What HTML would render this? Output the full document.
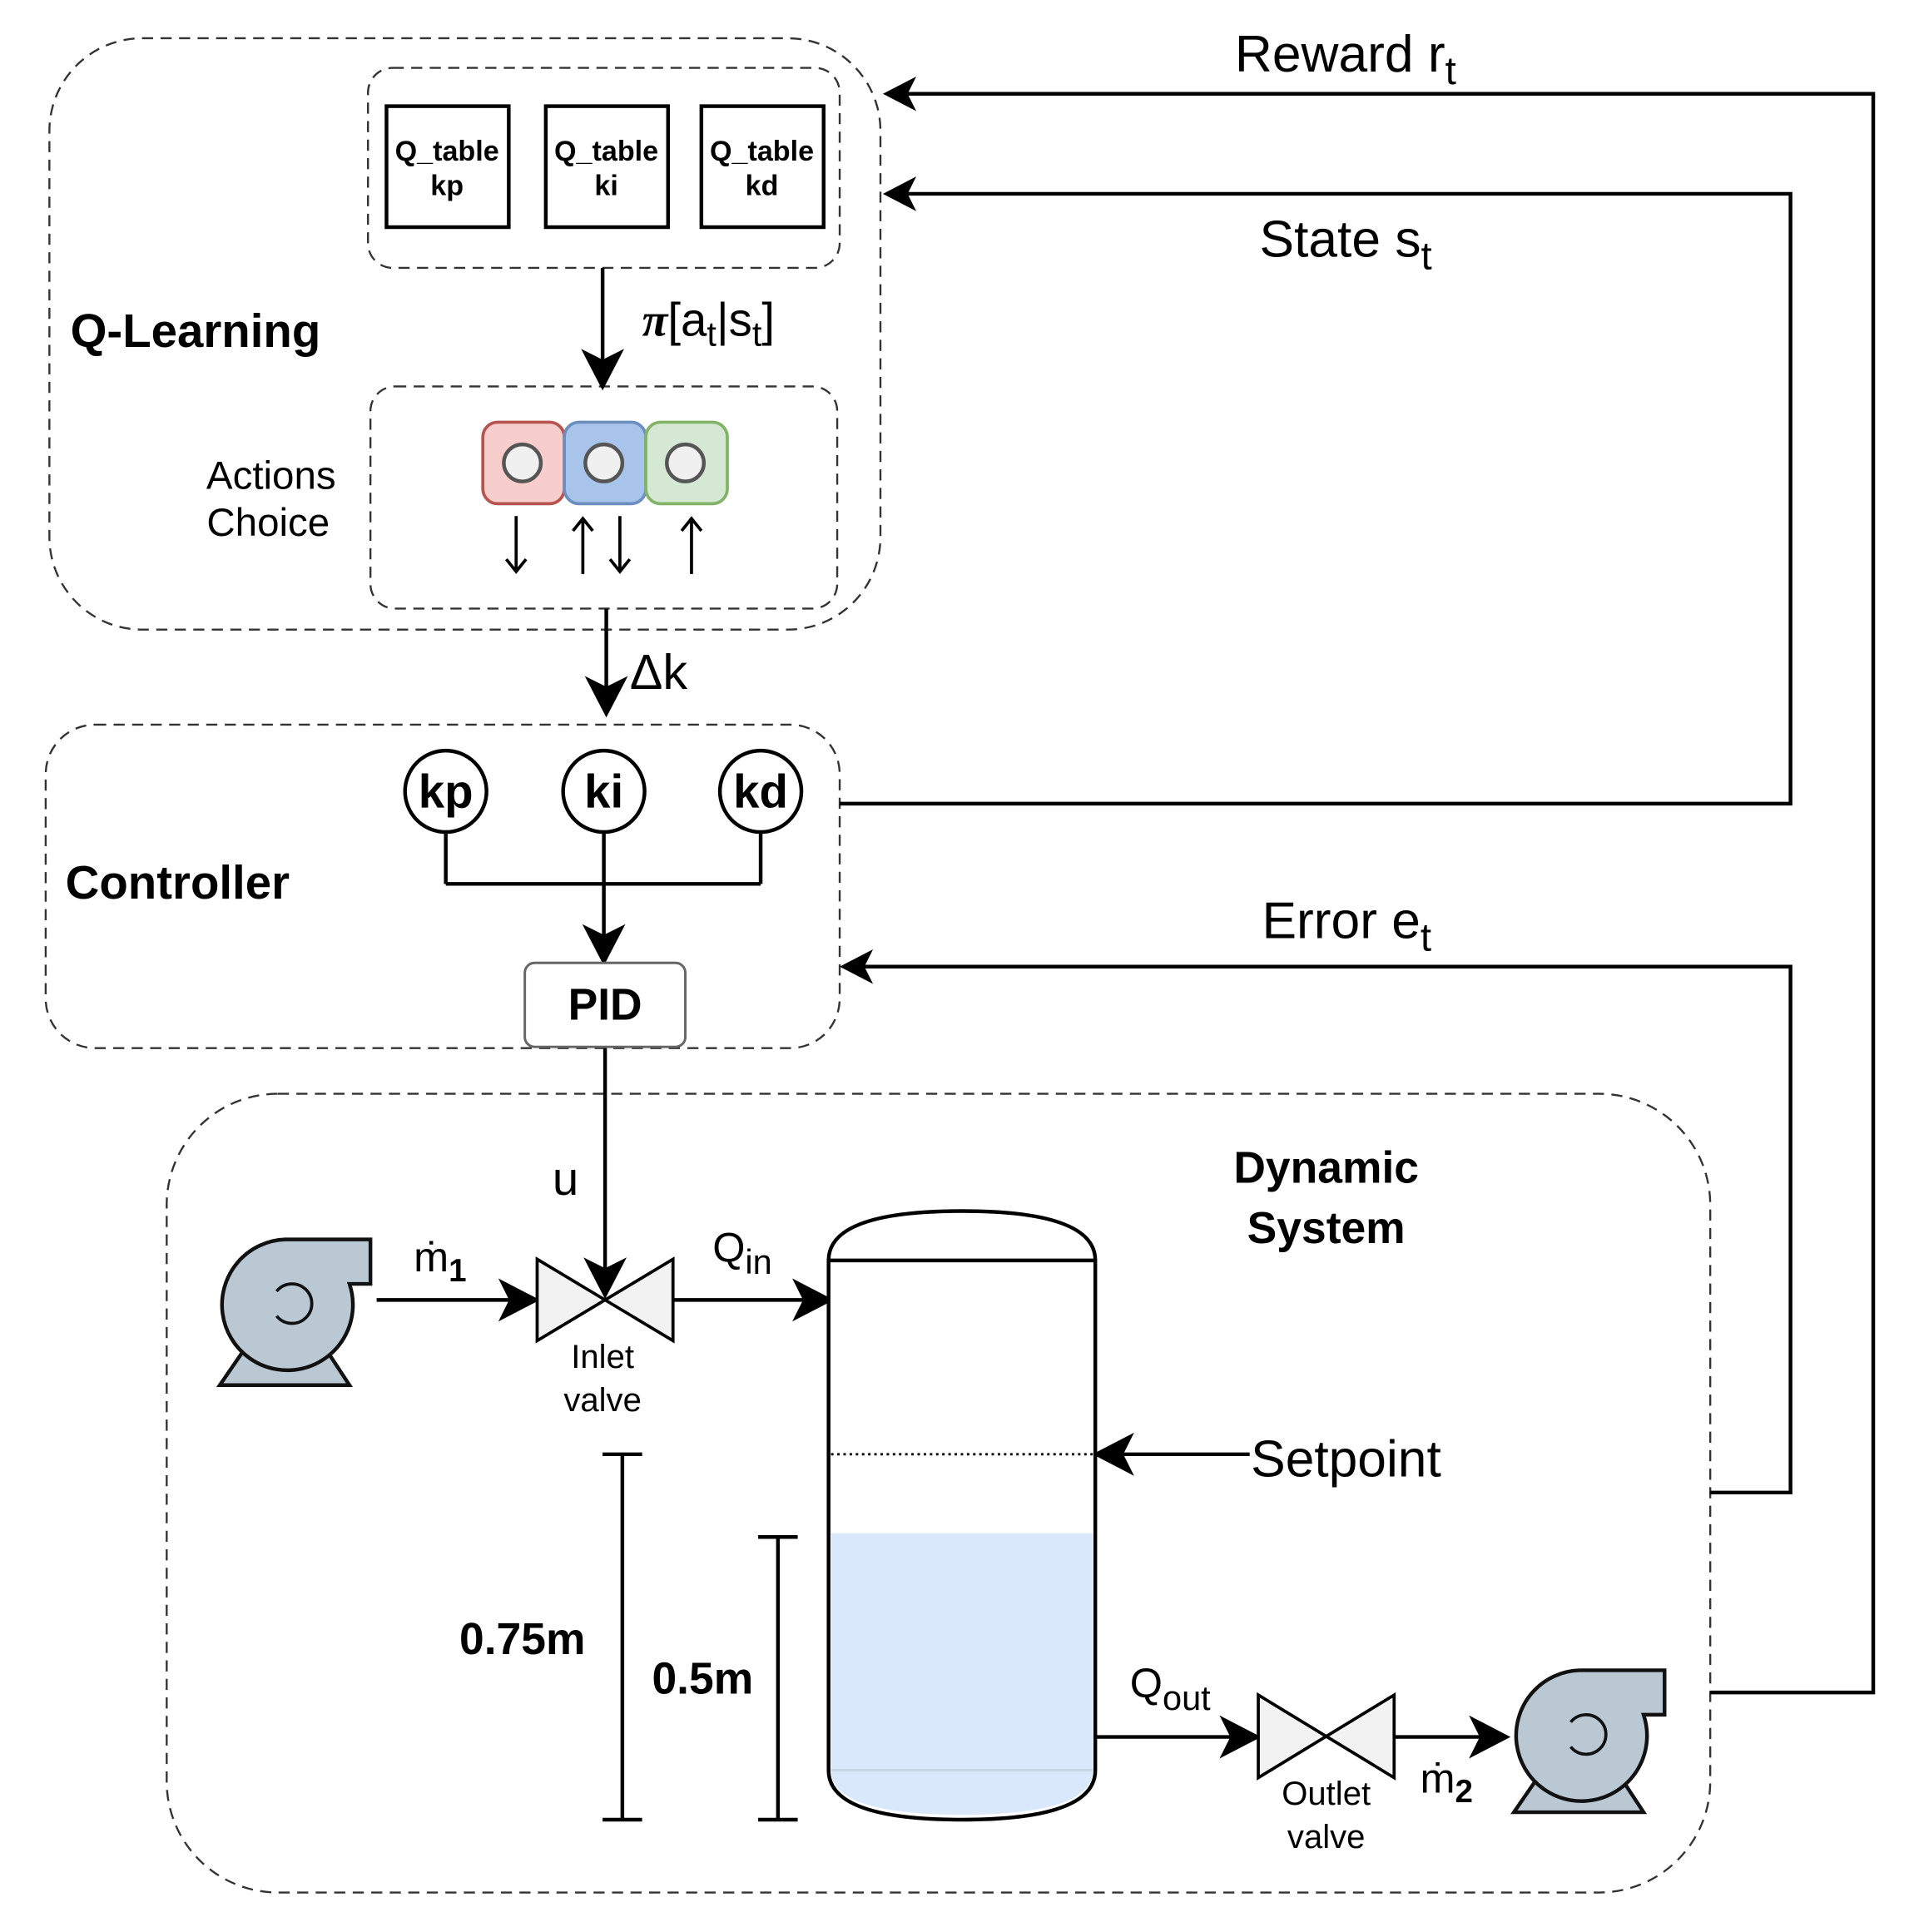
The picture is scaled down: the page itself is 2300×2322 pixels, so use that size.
<!DOCTYPE html>
<html><head><meta charset="utf-8"><style>
html,body{margin:0;padding:0;background:#fff;}
svg{display:block;}
text{font-family:"Liberation Sans",Arial,sans-serif;fill:#000;}
</style></head><body>
<svg width="2300" height="2322" viewBox="0 0 1550 1565" preserveAspectRatio="none" xmlns="http://www.w3.org/2000/svg">
<g fill="none" stroke="#333" stroke-width="1.6" stroke-dasharray="9,6">
<rect x="40" y="31" width="673" height="479" rx="75"/>
<rect x="298" y="55" width="382" height="162" rx="20"/>
<rect x="300" y="313" width="378" height="180" rx="20"/>
<rect x="37" y="587" width="643" height="262" rx="40"/>
<rect x="135" y="886" width="1250" height="647" rx="90"/>
</g>
<g fill="#fff" stroke="#000" stroke-width="3">
<rect x="313" y="86" width="99" height="98"/>
<rect x="442" y="86" width="99" height="98"/>
<rect x="568" y="86" width="99" height="98"/>
</g>
<g font-size="23" text-anchor="middle" font-weight="bold">
<text x="362" y="130">Q_table</text><text x="362" y="158">kp</text>
<text x="491" y="130">Q_table</text><text x="491" y="158">ki</text>
<text x="617" y="130">Q_table</text><text x="617" y="158">kd</text>
</g>
<text x="57" y="281" font-size="38" font-weight="bold">Q-Learning</text>
<text x="272" y="396" font-size="32" text-anchor="end" font-family="DejaVu Sans">Actions</text>
<text x="267" y="434" font-size="32" text-anchor="end" font-family="DejaVu Sans">Choice</text>
<g stroke="#000" stroke-width="3" fill="#000">
<line x1="488" y1="217" x2="488" y2="295"/><path d="M474,286 L488,313 L502,286 L488,293Z"/>
<line x1="491" y1="493" x2="491" y2="560"/><path d="M477,551 L491,578 L505,551 L491,558Z"/>
<line x1="361" y1="674" x2="361" y2="716"/><line x1="616" y1="674" x2="616" y2="716"/>
<line x1="361" y1="716" x2="616" y2="716"/>
<line x1="489" y1="674" x2="489" y2="762"/><path d="M475,752 L489,779 L503,752 L489,759Z"/>
<line x1="490" y1="849" x2="490" y2="1032"/><path d="M476,1022 L490,1049 L504,1022 L490,1029Z"/>
<line x1="305" y1="1053" x2="416" y2="1053"/><path d="M407,1039 L434,1053 L407,1067 L414,1053Z"/>
<line x1="545" y1="1053" x2="654" y2="1053"/><path d="M645,1039 L672,1053 L645,1067 L652,1053Z"/>
<line x1="887" y1="1407" x2="1000" y2="1407"/><path d="M991,1393 L1018,1407 L991,1421 L998,1407Z"/>
<line x1="1129" y1="1407" x2="1202" y2="1407"/><path d="M1193,1393 L1220,1407 L1193,1421 L1200,1407Z"/>
<line x1="1012" y1="1178" x2="906" y2="1178"/><path d="M915,1164 L888,1178 L915,1192 L908,1178Z"/>
</g>
<g stroke="#000" stroke-width="3" fill="none">
<polyline points="1385,1371 1517,1371 1517,76 735,76"/>
<polyline points="680,651 1450,651 1450,157 735,157"/>
<polyline points="1385,1209 1450,1209 1450,783 700,783"/>
</g>
<g fill="#000">
<path d="M742,62 L715,76 L742,90 L735,76Z"/>
<path d="M742,143 L715,157 L742,171 L735,157Z"/>
<path d="M707,769 L680,783 L707,797 L700,783Z"/>
</g>
<text x="520" y="272" font-size="38"><tspan font-family="Liberation Serif" font-style="italic" font-weight="bold">π</tspan>[a<tspan font-size="28" dy="8">t</tspan><tspan dy="-8">|s</tspan><tspan font-size="28" dy="8">t</tspan><tspan dy="-8">]</tspan></text>
<text x="510" y="558" font-size="40">Δk</text>
<text x="1000" y="58" font-size="42">Reward r<tspan font-size="32" dy="10">t</tspan></text>
<text x="1020" y="208" font-size="42">State s<tspan font-size="32" dy="10">t</tspan></text>
<text x="1022" y="760" font-size="42">Error e<tspan font-size="32" dy="10">t</tspan></text>
<rect x="391" y="342" width="66" height="66" rx="12" fill="#f8cecc" stroke="#b85450" stroke-width="2.5"/>
<rect x="457" y="342" width="66" height="66" rx="12" fill="#a9c4eb" stroke="#6c8ebf" stroke-width="2.5"/>
<rect x="523" y="342" width="66" height="66" rx="12" fill="#d5e8d4" stroke="#82b366" stroke-width="2.5"/>
<g fill="#f0f0f0" stroke="#555" stroke-width="3">
<circle cx="423" cy="375" r="15"/><circle cx="489" cy="375" r="15"/><circle cx="555" cy="375" r="15"/>
</g>
<g stroke="#000" stroke-width="2.5" fill="none">
<path d="M418,418 V463 M410,453 L418,463 L426,453"/>
<path d="M472,465 V420 M464,430 L472,420 L480,430"/>
<path d="M502,418 V463 M494,453 L502,463 L510,453"/>
<path d="M560,465 V420 M552,430 L560,420 L568,430"/>
</g>
<g fill="#fff" stroke="#000" stroke-width="3">
<circle cx="361" cy="641" r="33"/><circle cx="489" cy="641" r="33"/><circle cx="616" cy="641" r="33"/>
</g>
<g font-size="38" font-weight="bold" text-anchor="middle">
<text x="361" y="654">kp</text><text x="489" y="654">ki</text><text x="616" y="654">kd</text>
</g>
<text x="53" y="728" font-size="38" font-weight="bold">Controller</text>
<rect x="425" y="780" width="130" height="68" rx="8" fill="#fff" stroke="#666" stroke-width="2"/>
<text x="490" y="826" font-size="36" font-weight="bold" text-anchor="middle">PID</text>
<text x="458" y="968" font-size="38" text-anchor="middle">u</text>
<text x="1074" y="958" font-size="36" font-weight="bold" text-anchor="middle">Dynamic</text>
<text x="1074" y="1007" font-size="36" font-weight="bold" text-anchor="middle">System</text>
<!-- pumps -->
<g fill="#bac8d3" stroke="#111" stroke-width="3">
<path d="M200,1090 L178,1122 L283,1122 L262,1090 Z"/>
<path d="M283,1040 A53,53 0 1 1 231,1004 L300,1004 L300,1040 Z"/>
<path d="M1248,1436 L1226,1468 L1331,1468 L1310,1436 Z"/>
<path d="M1331,1389 A53,53 0 1 1 1279,1353 L1348,1353 L1348,1389 Z"/>
</g>
<g fill="none" stroke="#111" stroke-width="2.5">
<path d="M224,1046 A16,16 0 1 1 224,1066"/>
<path d="M1272,1395 A16,16 0 1 1 1272,1415"/>
</g>
<g fill="#f2f2f2" stroke="#000" stroke-width="2.5">
<path d="M435,1020 L545,1086 L545,1020 L435,1086 Z"/>
<path d="M1019,1373 L1129,1440 L1129,1373 L1019,1440 Z"/>
</g>
<text x="335" y="1030" font-size="34">ṁ<tspan font-size="26" font-weight="bold" dy="8">1</tspan></text>
<text x="1150" y="1452" font-size="34">ṁ<tspan font-size="26" font-weight="bold" dy="8">2</tspan></text>
<text x="577" y="1022" font-size="34">Q<tspan font-size="28" dy="10">in</tspan></text>
<text x="915" y="1375" font-size="34">Q<tspan font-size="28" dy="10">out</tspan></text>
<g font-size="27" text-anchor="middle" fill="#222">
<text x="488" y="1108">Inlet</text><text x="488" y="1143">valve</text>
<text x="1074" y="1462">Outlet</text><text x="1074" y="1497">valve</text>
</g>
<!-- tank -->
<path d="M671,1021 Q671,981 779,981 Q887,981 887,1021 L887,1434 Q887,1474 779,1474 Q671,1474 671,1434 Z" fill="#fff" stroke="#000" stroke-width="3"/>
<path d="M673,1242 L885,1242 L885,1434 Q885,1470 779,1470 Q673,1470 673,1434 Z" fill="#dae8fc"/>
<line x1="673" y1="1434" x2="885" y2="1434" stroke="#c9d6e6" stroke-width="2"/>
<line x1="671" y1="1021" x2="887" y2="1021" stroke="#000" stroke-width="3"/>
<line x1="673" y1="1178" x2="885" y2="1178" stroke="#000" stroke-width="2" stroke-dasharray="2,3"/>
<text x="1013" y="1196" font-size="42">Setpoint</text>
<g stroke="#000" stroke-width="3">
<line x1="504" y1="1178" x2="504" y2="1474"/><line x1="488" y1="1178" x2="520" y2="1178"/><line x1="488" y1="1474" x2="520" y2="1474"/>
<line x1="630" y1="1245" x2="630" y2="1474"/><line x1="614" y1="1245" x2="646" y2="1245"/><line x1="614" y1="1474" x2="646" y2="1474"/>
</g>
<text x="372" y="1340" font-size="36" font-weight="bold">0.75m</text>
<text x="528" y="1372" font-size="36" font-weight="bold">0.5m</text>
</svg>
</body></html>
